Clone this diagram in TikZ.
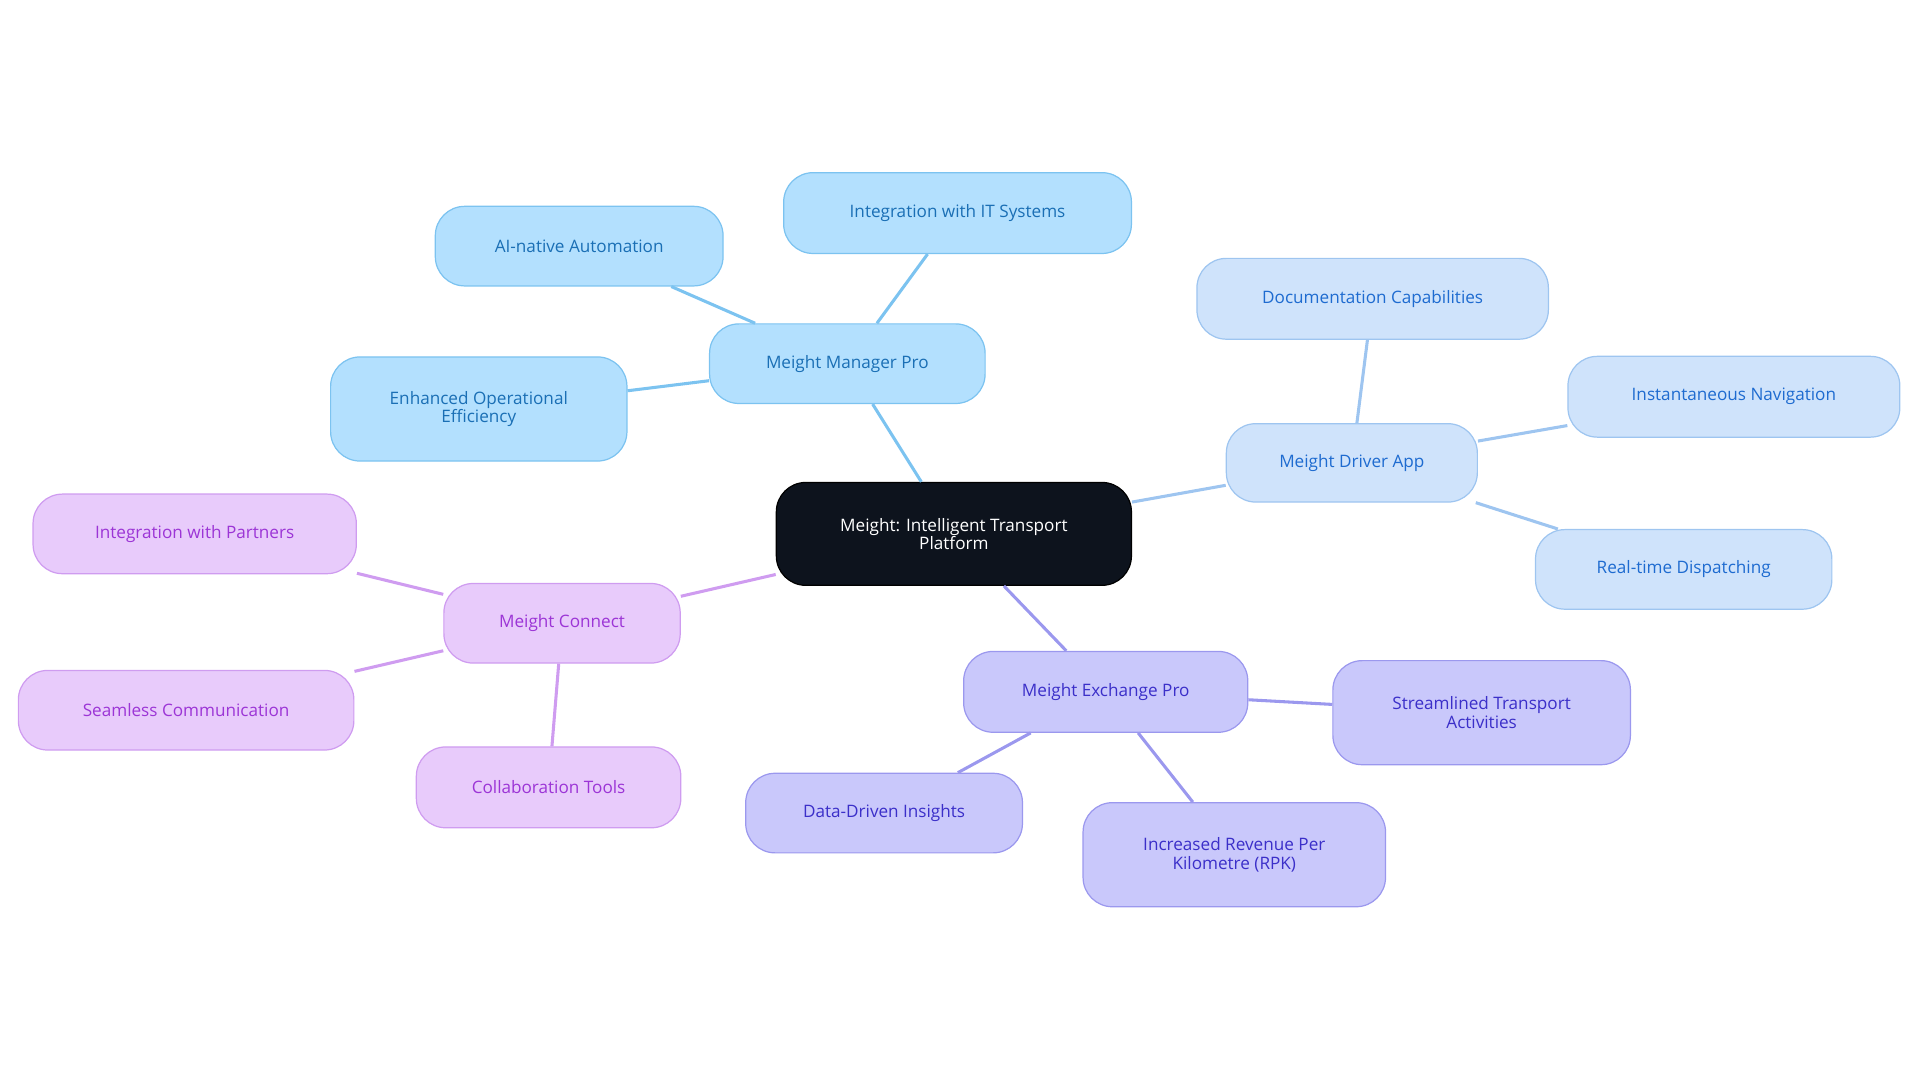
\documentclass[tikz,border=0pt]{standalone}
\usepackage{fontspec}
\setmainfont{Open Sans}
\begin{document}
\begin{tikzpicture}[x=1pt,y=-1pt,
  box/.style={rounded corners=24pt,draw,line width=1pt,align=center,font=\fontsize{14}{15}\selectfont,inner sep=0pt},
  mp/.style={box,fill=mpF,draw=mpD,text=mpT},
  da/.style={box,fill=daF,draw=daD,text=daT},
  ex/.style={box,fill=exF,draw=exD,text=exT},
  co/.style={box,fill=coF,draw=coD,text=coT},
  ln/.style={line width=2.5pt}]
\definecolor{mpF}{HTML}{B3E0FE}\definecolor{mpD}{HTML}{7CC3F0}\definecolor{mpT}{HTML}{1A6FB5}
\definecolor{daF}{HTML}{CFE3FB}\definecolor{daD}{HTML}{9EC5F0}\definecolor{daT}{HTML}{1E6BD0}
\definecolor{exF}{HTML}{C9C8FB}\definecolor{exD}{HTML}{9B98EE}\definecolor{exT}{HTML}{3B2FC9}
\definecolor{coF}{HTML}{E8CBFB}\definecolor{coD}{HTML}{CF9CF0}\definecolor{coT}{HTML}{9C35D6}
\useasboundingbox (0,0) rectangle (1568,884);
\node[box,fill=black!90!blue!60!black,fill={rgb,255:red,13;green,19;blue,29},draw=black,text=white,minimum width=290pt,minimum height=84pt] (c) at (779,436) {Meight: Intelligent Transport\\Platform};
\node[mp,minimum width=225pt,minimum height=65pt] (m) at (692,297) {Meight Manager Pro};
\node[mp,minimum width=235pt,minimum height=65pt] (m1) at (473,201) {AI-native Automation};
\node[mp,minimum width=284pt,minimum height=66pt] (m2) at (782,174) {Integration with IT Systems};
\node[mp,minimum width=242pt,minimum height=85pt] (m3) at (391,334) {Enhanced Operational\\Efficiency};
\node[da,minimum width=205pt,minimum height=64pt] (d) at (1104,378) {Meight Driver App};
\node[da,minimum width=287pt,minimum height=66pt] (d1) at (1121,244) {Documentation Capabilities};
\node[da,minimum width=271pt,minimum height=66pt] (d2) at (1416,324) {Instantaneous Navigation};
\node[da,minimum width=242pt,minimum height=65pt] (d3) at (1375,465) {Real-time Dispatching};
\node[ex,minimum width=232pt,minimum height=66pt] (e) at (903,565) {Meight Exchange Pro};
\node[ex,minimum width=243pt,minimum height=85pt] (e1) at (1210,582) {Streamlined Transport\\Activities};
\node[ex,minimum width=226pt,minimum height=65pt] (e2) at (722,664) {Data-Driven Insights};
\node[ex,minimum width=247pt,minimum height=85pt] (e3) at (1008,698) {Increased Revenue Per\\Kilometre (RPK)};
\node[co,minimum width=193pt,minimum height=65pt] (k) at (459,509) {Meight Connect};
\node[co,minimum width=264pt,minimum height=65pt] (k1) at (159,436) {Integration with Partners};
\node[co,minimum width=274pt,minimum height=65pt] (k2) at (152,580) {Seamless Communication};
\node[co,minimum width=216pt,minimum height=66pt] (k3) at (448,643) {Collaboration Tools};
\begin{scope}[on background layer/.style={}]
\draw[ln,mpD] (c) -- (m); \draw[ln,mpD] (m) -- (m1); \draw[ln,mpD] (m) -- (m2); \draw[ln,mpD] (m) -- (m3);
\draw[ln,daD] (c) -- (d); \draw[ln,daD] (d) -- (d1); \draw[ln,daD] (d) -- (d2); \draw[ln,daD] (d) -- (d3);
\draw[ln,exD] (c) -- (e); \draw[ln,exD] (e) -- (e1); \draw[ln,exD] (e) -- (e2); \draw[ln,exD] (e) -- (e3);
\draw[ln,coD] (c) -- (k); \draw[ln,coD] (k) -- (k1); \draw[ln,coD] (k) -- (k2); \draw[ln,coD] (k) -- (k3);
\end{scope}
\end{tikzpicture}
\end{document}
